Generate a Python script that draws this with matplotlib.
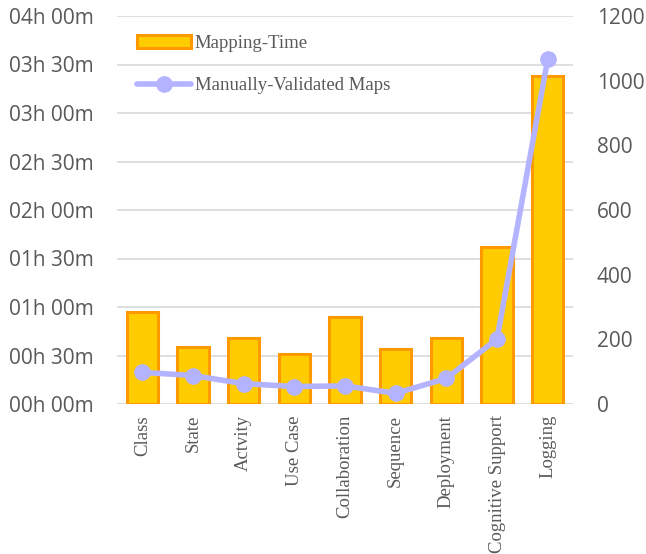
import matplotlib
matplotlib.use("Agg")
import matplotlib.pyplot as plt
from matplotlib.ticker import FuncFormatter, MultipleLocator

categories = ["Class", "State", "Actvity", "Use Case", "Collaboration",
              "Sequence", "Deployment", "Cognitive Support", "Logging"]
mapping_minutes = [57, 35, 41, 31, 54, 34, 41, 97, 203]
validated_maps = [98, 88, 63, 54, 56, 33, 79, 201, 1066]

fig = plt.figure(figsize=(6.46, 5.54), dpi=100)
ax = fig.add_axes([117/646, 1-404/554, (573-117)/646, (404-16)/554])
ax2 = ax.twinx()

x = list(range(len(categories)))
ax.bar(x, mapping_minutes, width=0.62, color="#FFCC00", edgecolor="#FF9900",
       linewidth=2.2, label="Mapping-Time", zorder=3)
ax2.plot(x, validated_maps, color="#B3B3FF", linewidth=4, marker="o",
         markersize=11, label="Manually-Validated Maps", zorder=4,
         solid_capstyle="round")

ax.set_xlim(-0.5, len(categories)-0.5)
ax.set_ylim(0, 240)
ax2.set_ylim(0, 1200)
ax.yaxis.set_major_locator(MultipleLocator(30))
ax2.yaxis.set_major_locator(MultipleLocator(200))
ax.yaxis.set_major_formatter(FuncFormatter(lambda v, p: f"{int(v)//60:02d}h {int(v)%60:02d}m"))

ax.grid(axis="y", color="#D9D9D9", linewidth=1.2, zorder=0)
ax.set_axisbelow(True)
for a in (ax, ax2):
    for s in a.spines.values():
        s.set_visible(False)
    a.tick_params(length=0)

ax.set_xticks(x)
ax.set_xticklabels(categories, rotation=90, family="Liberation Serif",
                   fontsize=13.5, color="#595959")
ax.tick_params(axis="x", pad=8)
for lab in ax.get_yticklabels():
    lab.set_family("Open Sans"); lab.set_fontsize(15); lab.set_color("#595959")
for lab in ax2.get_yticklabels():
    lab.set_family("Open Sans"); lab.set_fontsize(15); lab.set_color("#595959")
ax.tick_params(axis="y", pad=17)
ax2.tick_params(axis="y", pad=17)

h1, l1 = ax.get_legend_handles_labels()
h2, l2 = ax2.get_legend_handles_labels()
leg = ax2.legend(h1 + h2, l1 + l2, loc="upper left", bbox_to_anchor=(0.006, 0.995),
                 frameon=False, prop={"family": "Liberation Serif", "size": 13.5},
                 labelcolor="#595959", handlelength=2.9, handletextpad=0.2,
                 labelspacing=1.35)

fig.savefig("out.png", dpi=100)
